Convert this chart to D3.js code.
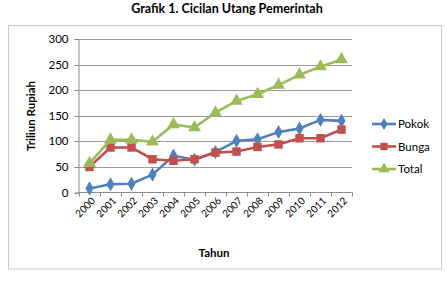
<!DOCTYPE html>
<html><head><meta charset="utf-8">
<script src="https://cdn.jsdelivr.net/npm/d3@7"></script>
<style>
body{margin:0;background:#fff;}
svg{display:block;}
</style></head>
<body>
<script>
const years = ["2000","2001","2002","2003","2004","2005","2006","2007","2008","2009","2010","2011","2012"];
const pokok = [8, 16, 17, 35, 72, 64, 79, 101, 104, 118, 125, 142, 140];
const bunga = [50, 88, 88, 65, 62, 65, 78, 80, 89, 94, 106, 106, 123];
const total = [57, 103, 103, 99, 133, 127, 156, 179, 192, 210, 230, 246, 260];
const yTicks = [0, 50, 100, 150, 200, 250, 300];
const seriesNames = ["Pokok", "Bunga", "Total"];
const colors = ["#4F81BD", "#C0504D", "#9BBB59"];
const shapes = [d3.symbolDiamond, d3.symbolSquare, d3.symbolTriangle];
const symSizes = [58, 72, 72];

const W = 447, H = 282;
const svg = d3.select("body").append("svg").attr("width", W).attr("height", H);
const font = "Lato, 'Open Sans', 'Liberation Sans', sans-serif";

svg.append("text").attr("x", 227).attr("y", 13).attr("text-anchor", "middle")
  .attr("font-family", font).attr("font-weight", "bold").attr("font-size", 12.5)
  .attr("fill", "#000").text("Grafik 1. Cicilan Utang Pemerintah");

svg.append("rect").attr("x", 8.5).attr("y", 25.5).attr("width", 433).attr("height", 243.5)
  .attr("fill", "#fff").attr("stroke", "#c8c8c8").attr("stroke-width", 1);

const x = d3.scaleBand().domain(years).range([79, 352]);
const y = d3.scaleLinear().domain([0, 300]).range([192.5, 39]);

// gridlines
svg.append("g").selectAll("line").data(yTicks.slice(1)).join("line")
  .attr("x1", 79).attr("x2", 352).attr("y1", d => Math.round(y(d)) + 0.5).attr("y2", d => Math.round(y(d)) + 0.5)
  .attr("stroke", "#9a9a9a").attr("stroke-width", 1);

// y axis
const yAxis = svg.append("g").attr("transform", "translate(78.5,0)")
  .call(d3.axisLeft(y).tickValues(yTicks).tickSize(4).tickPadding(6));
yAxis.select(".domain").attr("stroke", "#8c8c8c");
yAxis.selectAll(".tick line").attr("stroke", "#8c8c8c");
yAxis.selectAll(".tick").attr("transform", d => `translate(0,${Math.round(y(d)) + 0.5})`);
yAxis.selectAll("text").attr("font-family", font).attr("font-size", 11.5).attr("fill", "#000");

// x axis
const xAxis = svg.append("g").attr("transform", "translate(0,192.5)");
xAxis.append("line").attr("x1", 78).attr("x2", 352.5).attr("stroke", "#8c8c8c");
const bounds = years.map(d => x(d)).concat([x(years[years.length - 1]) + x.bandwidth()]);
xAxis.selectAll("line.t").data(bounds).join("line").attr("class", "t")
  .attr("x1", d => Math.round(d) + 0.5).attr("x2", d => Math.round(d) + 0.5)
  .attr("y1", 0).attr("y2", 4).attr("stroke", "#8c8c8c");
svg.append("g").selectAll("text").data(years).join("text")
  .attr("transform", d => `translate(${x(d) + x.bandwidth() / 2 + 4},199) rotate(-45)`)
  .attr("text-anchor", "end").attr("dy", "0.35em")
  .attr("font-family", font).attr("font-size", 10).attr("fill", "#000").text(d => d);

// axis titles
svg.append("text").attr("transform", "translate(35,116) rotate(-90)").attr("text-anchor", "middle")
  .attr("font-family", font).attr("font-weight", "bold").attr("font-size", 11.5).text("Triliun Rupiah");
svg.append("text").attr("x", 214).attr("y", 257).attr("text-anchor", "middle")
  .attr("font-family", font).attr("font-weight", "bold").attr("font-size", 11.5).text("Tahun");

// series
const data = [pokok, bunga, total];
const line = d3.line().x((d, i) => x(years[i]) + x.bandwidth() / 2).y(d => y(d));
data.forEach((vals, s) => {
  svg.append("path").datum(vals).attr("d", line).attr("fill", "none")
    .attr("stroke", colors[s]).attr("stroke-width", 2.6).attr("stroke-linejoin", "round");
  svg.append("g").selectAll("path").data(vals).join("path")
    .attr("d", d3.symbol().type(shapes[s]).size(symSizes[s]))
    .attr("transform", (d, i) => `translate(${x(years[i]) + x.bandwidth() / 2},${y(d)})`)
    .attr("fill", colors[s]);
});

// legend
const legY = [124, 146.5, 169];
seriesNames.forEach((name, s) => {
  const g = svg.append("g").attr("transform", `translate(372,${legY[s]})`);
  g.append("line").attr("x1", 0).attr("x2", 24).attr("stroke", colors[s]).attr("stroke-width", 2.6);
  g.append("path").attr("d", d3.symbol().type(shapes[s]).size(symSizes[s] * 0.75))
    .attr("transform", "translate(12,0)").attr("fill", colors[s]);
  g.append("text").attr("x", 26).attr("dy", "0.35em").attr("font-family", font)
    .attr("font-size", 11.5).attr("fill", "#000").text(name);
});
</script>
</body></html>
